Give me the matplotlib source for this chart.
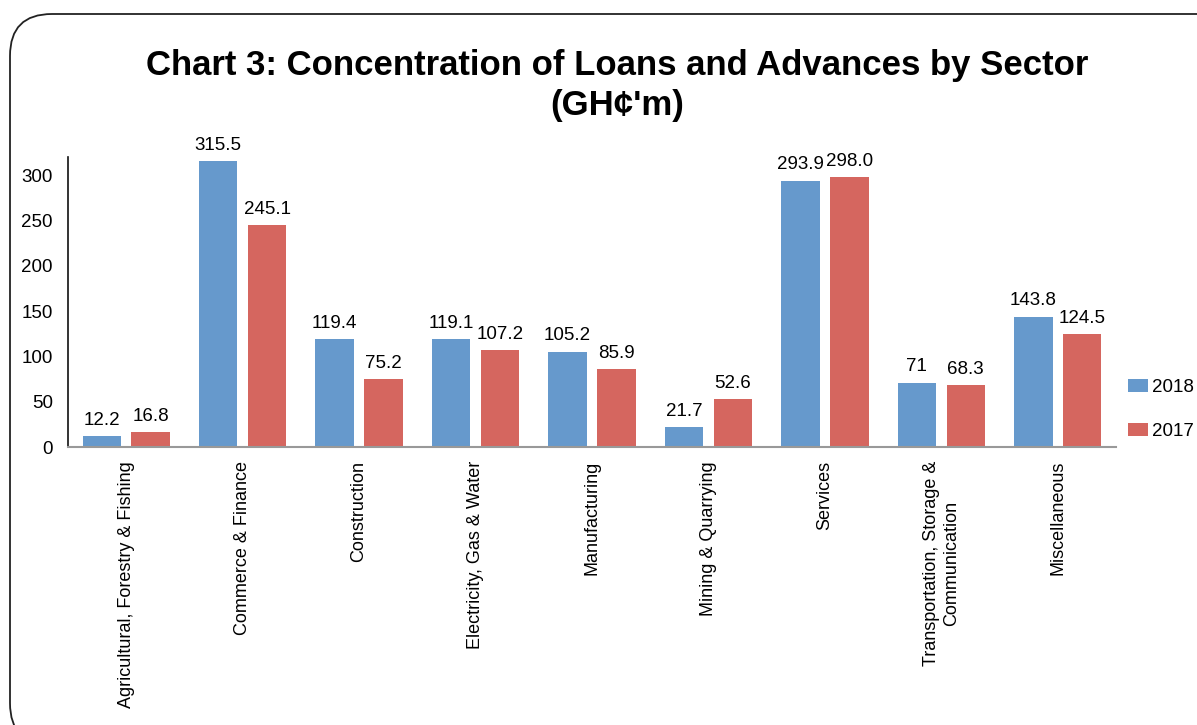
import matplotlib.pyplot as plt
import numpy as np
from matplotlib.patches import FancyBboxPatch

plt.rcParams['font.family'] = ['Liberation Sans', 'DejaVu Sans']

sectors = ['Agricultural, Forestry & Fishing', 'Commerce & Finance', 'Construction',
           'Electricity, Gas & Water', 'Manufacturing', 'Mining & Quarrying',
           'Services', 'Transportation, Storage &\nCommunication', 'Miscellaneous']
loans_2018 = [12.2, 315.5, 119.4, 119.1, 105.2, 21.7, 293.9, 71, 143.8]
loans_2017 = [16.8, 245.1, 75.2, 107.2, 85.9, 52.6, 298.0, 68.3, 124.5]
labels_2018 = ['12.2', '315.5', '119.4', '119.1', '105.2', '21.7', '293.9', '71', '143.8']
labels_2017 = ['16.8', '245.1', '75.2', '107.2', '85.9', '52.6', '298.0', '68.3', '124.5']

blue = '#6699cc'
red = '#d5665f'

fig = plt.figure(figsize=(11.97, 7.25), dpi=100)

# rounded frame around the chart, running off the right and bottom edges
frame = FancyBboxPatch((10 / 1197, -20 / 725), 1.1, (725 - 14 + 20) / 725,
                       boxstyle='round,pad=0,rounding_size=0.035',
                       transform=fig.transFigure, fill=False,
                       edgecolor='#222222', linewidth=1.3, mutation_aspect=1197 / 725)
fig.patches.append(frame)

ax = fig.add_axes([68 / 1197, 1 - 447 / 725, (1116 - 68) / 1197, (447 - 157) / 725])

x = np.arange(len(sectors))
w = 0.33
off = 0.21
b1 = ax.bar(x - off, loans_2018, w, color=blue, label='2018')
b2 = ax.bar(x + off, loans_2017, w, color=red, label='2017')

for bars, labs in ((b1, labels_2018), (b2, labels_2017)):
    for bar, lab in zip(bars, labs):
        ax.text(bar.get_x() + bar.get_width() / 2, bar.get_height() + 8, lab,
                ha='center', va='bottom', fontsize=13.5)

ax.set_xlim(-0.5, len(sectors) - 0.5)
ax.set_ylim(0, 320)
ax.set_yticks([0, 50, 100, 150, 200, 250, 300])
ax.set_xticks(x)
ax.set_xticklabels(sectors, rotation=90, fontsize=13, va='top', ha='center',
                   multialignment='center')
ax.tick_params(axis='x', length=0, pad=10)
ax.tick_params(axis='y', length=0, labelsize=13.5, pad=11)

for side in ('top', 'right'):
    ax.spines[side].set_visible(False)
ax.spines['left'].set_color('#111111')
ax.spines['left'].set_linewidth(1.2)
ax.spines['bottom'].set_color('#999999')
ax.spines['bottom'].set_linewidth(1.5)

ax.legend(loc='center left', bbox_to_anchor=(1.011, 0.13), frameon=False,
          fontsize=13.5, handlelength=1.1, handleheight=0.7, labelspacing=1.45,
          handletextpad=0.2, borderpad=0, borderaxespad=0)

fig.text(0.516, 1 - 65 / 725, 'Chart 3: Concentration of Loans and Advances by Sector',
         ha='center', va='center', fontsize=25, fontweight='bold')
fig.text(0.516, 1 - 105 / 725, "(GH\u00a2'm)", ha='center', va='center',
         fontsize=25, fontweight='bold')

fig.savefig('out.png', dpi=100)
